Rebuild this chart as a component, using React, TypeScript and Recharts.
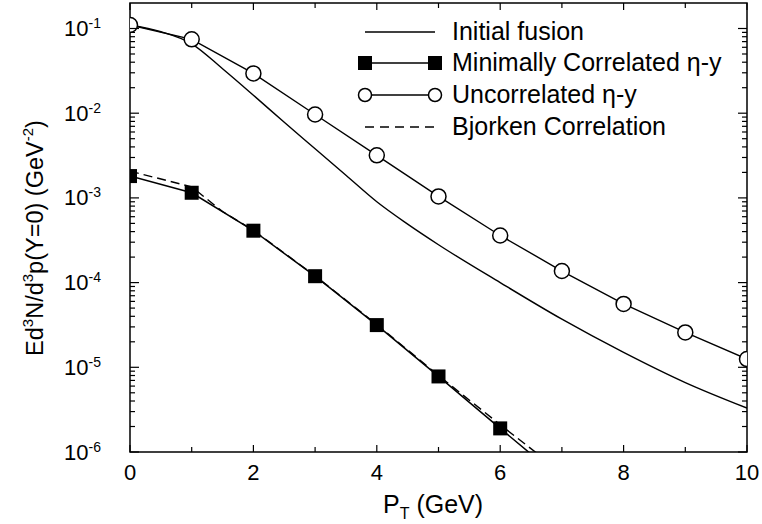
import React from 'react';
import { LineChart, Line, XAxis, YAxis, ReferenceArea } from 'recharts';

// P_T axis ticks (GeV) and the decades on the log axis
const ptTicks = [0, 1, 2, 3, 4, 5, 6, 7, 8, 9, 10];
const ptLabels = [0, 2, 4, 6, 8, 10];
const decades = [1e-6, 1e-5, 1e-4, 1e-3, 1e-2, 1e-1];

// Initial fusion (thin solid curve, no markers)
const fusionPt = [0, 0.5, 1, 1.5, 2, 2.5, 3, 3.5, 4, 4.5, 5, 6, 7, 8, 9, 10];
const fusionVal = [0.11, 0.0916, 0.066, 0.0335, 0.0163, 7.8e-3, 3.8e-3, 1.85e-3, 9.0e-4, 4.9e-4, 2.8e-4, 1.0e-4, 3.7e-5, 1.5e-5, 6.6e-6, 3.3e-6];

// Uncorrelated eta-y (open circles)
const uncorrPt = [0, 1, 2, 3, 4, 5, 6, 7, 8, 9, 10];
const uncorrVal = [0.11, 0.0745, 0.0295, 0.00966, 0.00318, 1.04e-3, 3.6e-4, 1.37e-4, 5.6e-5, 2.58e-5, 1.25e-5];

// Minimally correlated eta-y (filled squares up to 6 GeV, line runs off the bottom)
const minCorrPt = [0, 1, 2, 3, 4, 5, 6, 7];
const minCorrVal = [1.81e-3, 1.15e-3, 4.1e-4, 1.19e-4, 3.15e-5, 7.8e-6, 1.9e-6, 4.7e-7];

// Bjorken correlation (dashed)
const bjorkenPt = [0, 1, 1.5, 2, 3, 4, 5, 6, 7];
const bjorkenVal = [2.07e-3, 1.35e-3, 6.9e-4, 4.15e-4, 1.2e-4, 3.2e-5, 8.0e-6, 2.1e-6, 5.7e-7];

const toRows = (xs: number[], ys: number[]) => xs.map((x, i) => ({ pt: x, v: ys[i] }));

const fusionData = toRows(fusionPt, fusionVal);
const uncorrData = toRows(uncorrPt, uncorrVal);
const minCorrData = toRows(minCorrPt, minCorrVal);
const bjorkenData = toRows(bjorkenPt, bjorkenVal);

// minor ticks 2..9 inside each decade
const yTicks: number[] = [];
decades.forEach((d) => {
  yTicks.push(d);
  if (d < 0.1) for (let m = 2; m <= 9; m++) yTicks.push(d * m);
});

const W = 762;
const H = 524;
const BOX = { left: 130, right: 747, top: 3, bottom: 452 };
const FONT = '"Liberation Sans", Arial, Helvetica, sans-serif';

const XTick = (props: any) => {
  const { x, payload } = props;
  const v = payload.value;
  const major = ptLabels.includes(v);
  const len = major ? 7 : 5;
  return (
    <g>
      <line x1={x} x2={x} y1={BOX.bottom} y2={BOX.bottom - len} stroke="#000" strokeWidth={1.2} />
      <line x1={x} x2={x} y1={BOX.top} y2={BOX.top + len} stroke="#000" strokeWidth={1.2} />
      {major && (
        <text x={x} y={480} textAnchor="middle" fontSize={22} fontFamily={FONT} fill="#000">
          {v}
        </text>
      )}
    </g>
  );
};

const YTick = (props: any) => {
  const { y, payload } = props;
  const v = payload.value;
  const lg = Math.log10(v);
  const exp = Math.round(lg);
  const major = Math.abs(lg - exp) < 1e-6;
  const len = major ? 9 : 5;
  return (
    <g>
      <line x1={BOX.left} x2={BOX.left + len} y1={y} y2={y} stroke="#000" strokeWidth={1.2} />
      <line x1={BOX.right} x2={BOX.right - len} y1={y} y2={y} stroke="#000" strokeWidth={1.2} />
      {major && (
        <text x={101} y={y + 7.5} textAnchor="end" fontSize={22} fontFamily={FONT} fill="#000">
          10<tspan dy={-8} fontSize={14}>{exp}</tspan>
        </text>
      )}
    </g>
  );
};

const SquareDot = (props: any) => {
  const { cx, cy, payload } = props;
  if (payload.pt > 6 || cx == null || cy == null) return <g key={`s${payload.pt}`} />;
  return <rect key={`s${payload.pt}`} x={cx - 7} y={cy - 7} width={14} height={14} fill="#000" />;
};

const LegendBox = () => {
  const x1 = 365;
  const x2 = 435;
  const tx = 452;
  const rows = [32, 63, 95, 127];
  const fs = 25;
  return (
    <g fontFamily={FONT} fontSize={fs} fill="#000">
      <line x1={x1} x2={x2} y1={rows[0]} y2={rows[0]} stroke="#000" strokeWidth={1.3} />
      <text x={tx} y={rows[0] + 8}>Initial fusion</text>

      <line x1={x1} x2={x2} y1={rows[1]} y2={rows[1]} stroke="#000" strokeWidth={1.5} />
      <rect x={x1 - 7} y={rows[1] - 7} width={14} height={14} fill="#000" />
      <rect x={x2 - 7} y={rows[1] - 7} width={14} height={14} fill="#000" />
      <text x={tx} y={rows[1] + 8}>Minimally Correlated η-y</text>

      <line x1={x1} x2={x2} y1={rows[2]} y2={rows[2]} stroke="#000" strokeWidth={1.3} />
      <circle cx={x1} cy={rows[2]} r={6.5} fill="#fff" stroke="#000" strokeWidth={1.5} />
      <circle cx={x2} cy={rows[2]} r={6.5} fill="#fff" stroke="#000" strokeWidth={1.5} />
      <text x={tx} y={rows[2] + 8}>Uncorrelated η-y</text>

      <line x1={x1} x2={x2} y1={rows[3]} y2={rows[3]} stroke="#000" strokeWidth={1.5} strokeDasharray="9 6" />
      <text x={tx} y={rows[3] + 8}>Bjorken Correlation</text>
    </g>
  );
};

const AxisTitles = () => (
  <g fontFamily={FONT} fill="#000">
    <text x={383} y={513} fontSize={25}>
      P<tspan dy={6} fontSize={16}>T</tspan>
      <tspan dy={-6}> (GeV)</tspan>
    </text>
    <text x={43} y={238} fontSize={23.5} textAnchor="middle" transform="rotate(-90, 43, 238)">
      Ed<tspan dy={-10} fontSize={15}>3</tspan>
      <tspan dy={10}>N/d</tspan>
      <tspan dy={-10} fontSize={15}>3</tspan>
      <tspan dy={10}>p(Y=0) (GeV</tspan>
      <tspan dy={-10} fontSize={15}>-2</tspan>
      <tspan dy={10}>)</tspan>
    </text>
  </g>
);

export default function App() {
  return (
    <div style={{ position: 'absolute', left: 0, top: 0, background: '#fff' }}>
      <LineChart
        width={W}
        height={H}
        margin={{ top: BOX.top, right: W - BOX.right, bottom: 0, left: 0 }}
      >
        <XAxis
          dataKey="pt"
          type="number"
          domain={[0, 10]}
          ticks={ptTicks}
          interval={0}
          allowDataOverflow
          axisLine={false}
          tickLine={false}
          tick={<XTick />}
          height={H - BOX.bottom}
        />
        <YAxis
          type="number"
          scale="log"
          domain={[1e-6, 0.2]}
          ticks={yTicks}
          interval={0}
          allowDataOverflow
          axisLine={false}
          tickLine={false}
          tick={<YTick />}
          width={BOX.left}
        />
        <ReferenceArea x1={0} x2={10} y1={1e-6} y2={0.2} fill="none" stroke="#000" strokeWidth={1.5} />
        <Line
          data={fusionData}
          dataKey="v"
          type="monotone"
          stroke="#000"
          strokeWidth={1.4}
          dot={false}
          activeDot={false}
          isAnimationActive={false}
        />
        <Line
          data={uncorrData}
          dataKey="v"
          type="linear"
          stroke="#000"
          strokeWidth={1.4}
          dot={{ r: 7.5, fill: '#fff', stroke: '#000', strokeWidth: 1.5 }}
          activeDot={false}
          isAnimationActive={false}
        />
        <Line
          data={bjorkenData}
          dataKey="v"
          type="linear"
          stroke="#000"
          strokeWidth={1.4}
          strokeDasharray="9 5"
          dot={false}
          activeDot={false}
          isAnimationActive={false}
        />
        <Line
          data={minCorrData}
          dataKey="v"
          type="linear"
          stroke="#000"
          strokeWidth={1.5}
          dot={<SquareDot />}
          activeDot={false}
          isAnimationActive={false}
        />
        <LegendBox />
        <AxisTitles />
      </LineChart>
    </div>
  );
}
